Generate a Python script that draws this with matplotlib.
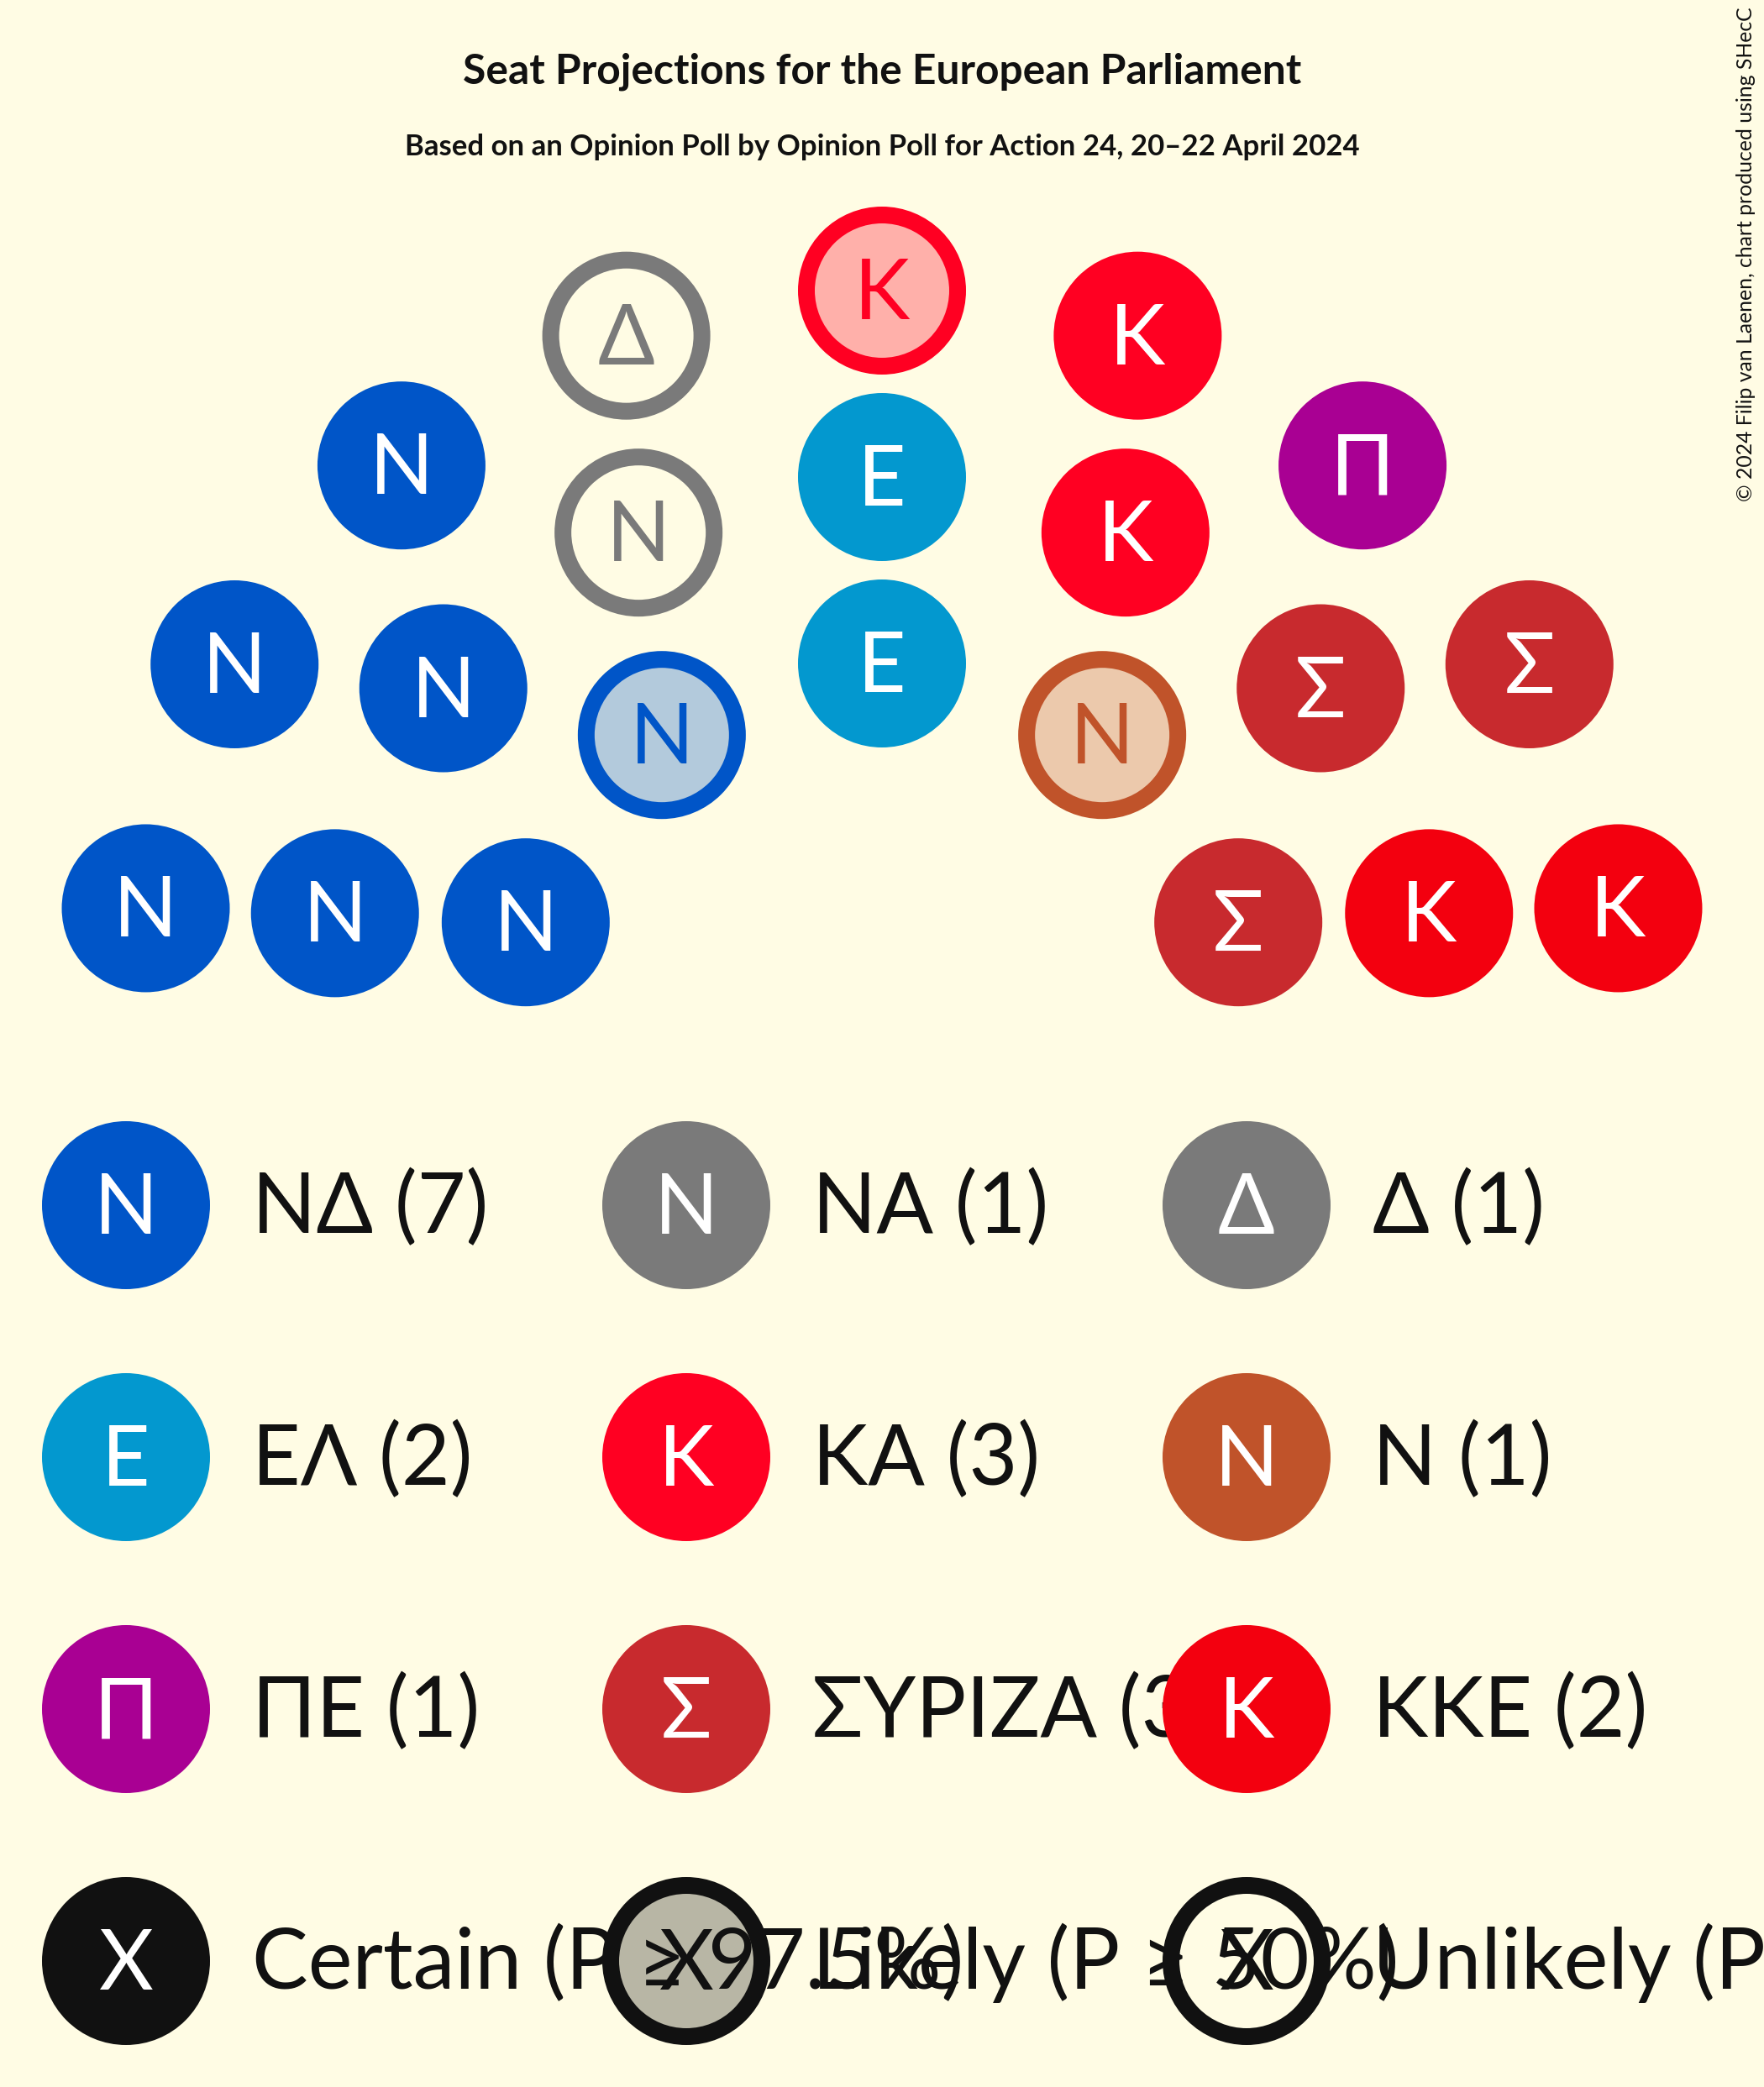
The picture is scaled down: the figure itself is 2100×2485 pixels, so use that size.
import numpy as np
import matplotlib
matplotlib.use('Agg')
import matplotlib.pyplot as plt
from matplotlib.patches import Circle
from matplotlib.colors import to_rgb

plt.rcParams['font.family'] = ['Lato', 'DejaVu Sans']

# Parties in seat order (left to right)
parties = ['ΝΔ', 'ΝΑ', 'Δ', 'ΕΛ', 'ΚΑ', 'Ν', 'ΠΕ', 'ΣΥΡΙΖΑ', 'ΚΚΕ']
symbols = ['Ν', 'Ν', 'Δ', 'Ε', 'Κ', 'Ν', 'Π', 'Σ', 'Κ']
seats = [7, 1, 1, 2, 3, 1, 1, 3, 2]
colors = ['#0055C8', '#7A7A7A', '#7A7A7A', '#0398CF', '#FF0022',
          '#C0532A', '#A90093', '#C82A2E', '#F3000F']
# certainty of each seat, per party
certainty = [
    ['certain'] * 6 + ['likely'],
    ['unlikely'],
    ['unlikely'],
    ['certain', 'certain'],
    ['likely', 'certain', 'certain'],
    ['likely'],
    ['certain'],
    ['certain'] * 3,
    ['certain'] * 2,
]
status_names = ['certain', 'likely', 'unlikely']
status_labels = ['Certain (P ≥ 97.5%)', 'Likely (P ≥ 50%)', 'Unlikely (P ≥ 2.5%)']

title = 'Seat Projections for the European Parliament'
subtitle = 'Based on an Opinion Poll by Opinion Poll for Action 24, 20–22 April 2024'
credit = '© 2024 Filip van Laenen, chart produced using SHecC'

BG = '#FFFCE4'
INK = '#111111'
W, H = 2100, 2485
R = 100          # seat radius in px
RING = 20        # ring width in px
LW = RING * 72 / 100


def light(c):
    c = np.array(to_rgb(c))
    b = np.array(to_rgb(BG))
    return tuple(0.3 * c + 0.7 * b)


fig = plt.figure(figsize=(W / 100, H / 100), dpi=100)
fig.patch.set_facecolor(BG)
ax = fig.add_axes([0, 0, 1, 1])
ax.set_xlim(0, W)
ax.set_ylim(H, 0)
ax.set_aspect('equal')
ax.axis('off')

z = [1]


def draw_seat(x, y, sym, color, status):
    if status == 'certain':
        p = Circle((x, y), R, facecolor=color, edgecolor='none')
        tc = 'white'
    elif status == 'likely':
        p = Circle((x, y), R - RING / 2, facecolor=light(color), edgecolor=color, linewidth=LW)
        tc = color
    else:
        p = Circle((x, y), R - RING / 2, facecolor='none', edgecolor=color, linewidth=LW)
        tc = color
    p.set_zorder(z[0])
    ax.add_patch(p)
    ax.text(x, y + 34, sym, ha='center', va='baseline', fontsize=72, color=tc, zorder=z[0] + 1)
    z[0] += 2


# hemicycle layout: 3 rows around a common centre
cx, cy = 1050, 1236
row_radii = [446, 668, 890]
row_counts = [5, 7, 9]
slots = []
for r, n in zip(row_radii, row_counts):
    for i in range(n):
        a = np.pi * (i + 0.5) / n
        slots.append((round(-a, 6), r, cx + r * np.cos(a), cy - r * np.sin(a)))
slots.sort(key=lambda s: (s[0], s[1]))

k = 0
for sym, col, stats in zip(symbols, colors, certainty):
    for st in stats:
        _, _, x, y = slots[k]
        draw_seat(x, y, sym, col, st)
        k += 1

# party legend
for i, (p, sym, n, col) in enumerate(zip(parties, symbols, seats, colors)):
    lx = 150 + 667 * (i % 3)
    ly = 1435 + 300 * (i // 3)
    draw_seat(lx, ly, sym, col, 'certain')
    ax.text(lx + 150, ly + 33, f'{p} ({n})', ha='left', va='baseline',
            fontsize=72, color=INK, zorder=z[0])
    z[0] += 1

# certainty legend: circles first, labels on top
ly = 1435 + 300 * 3
for i, st in enumerate(status_names):
    draw_seat(150 + 667 * i, ly, 'X', INK, st)
for i, lab in enumerate(status_labels):
    ax.text(150 + 667 * i + 150, ly + 33, lab, ha='left', va='baseline',
            fontsize=72, color=INK, zorder=1000)

ax.text(1050, 100, title, ha='center', va='baseline', fontsize=35.8,
        fontweight='bold', color=INK)
ax.text(1050, 185, subtitle, ha='center', va='baseline', fontsize=25,
        fontweight='bold', color=INK)
ax.text(2079, 8, credit, rotation=90, ha='center', va='top', fontsize=17.8, color=INK)

fig.savefig('out.png', dpi=100, facecolor=BG)
